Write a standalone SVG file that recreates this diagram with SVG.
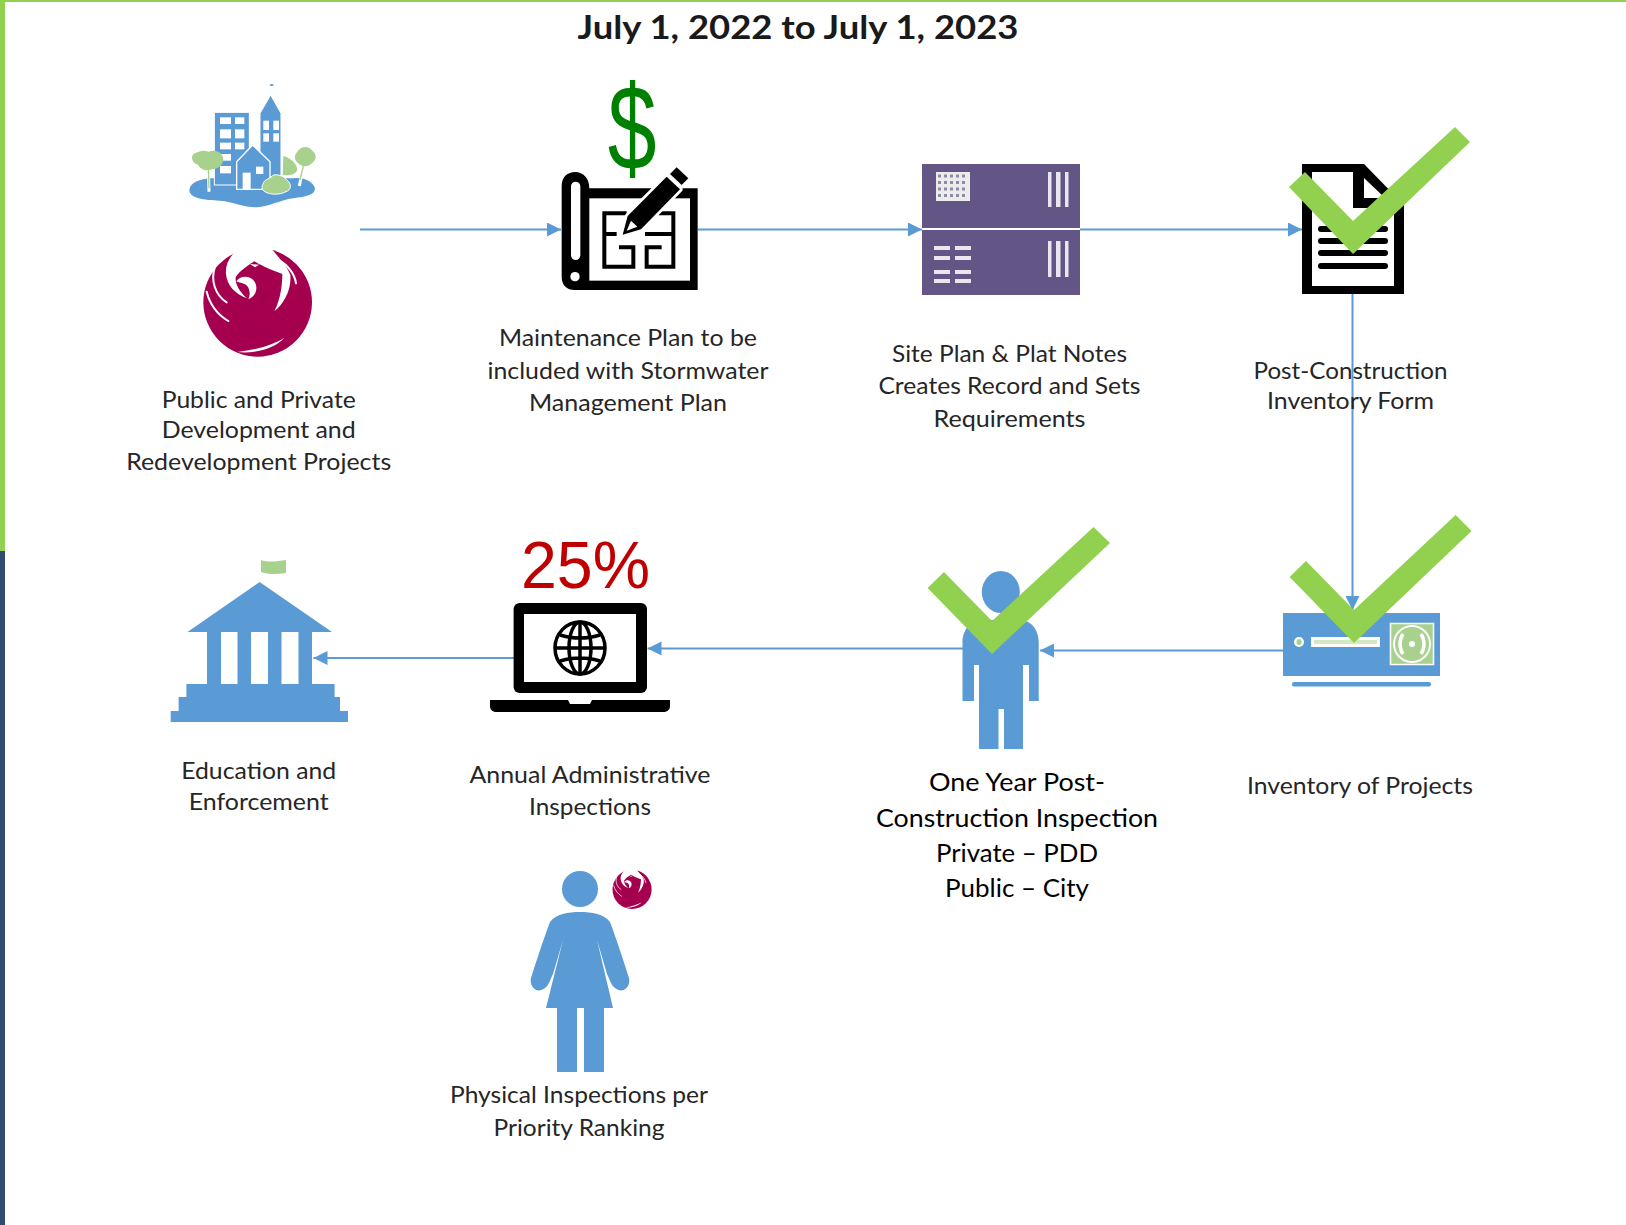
<svg xmlns="http://www.w3.org/2000/svg" xmlns:xlink="http://www.w3.org/1999/xlink" width="1626" height="1225" viewBox="0 0 1626 1225">
<style>
.t{font-family:"Lato","Carlito","Liberation Sans",sans-serif;font-size:24px;fill:#262626;text-anchor:middle}
.d{fill:#000;font-size:25px}
.b{fill:#5b9bd5}
.g{fill:#a9d18e}
.k{fill:#000}
.w{fill:#fff}
.c{fill:#92d050}
.s{fill:none;stroke:#000}
.l{fill:none;stroke:#5b9bd5;stroke-width:2}
.r{fill:none;stroke:#fff}
</style>
<defs>
<marker id="a" markerUnits="userSpaceOnUse" markerWidth="15" markerHeight="16" refX="14" refY="7" orient="auto"><path d="M0 0L14 7L0 14Z" fill="#5b9bd5"/></marker>
<g id="phx">
<circle cx="188" cy="187" r="163" fill="#a50050"/>
<path class="w" d="M146 16C108 38 90 70 93 102C96 135 118 160 155 175C132 152 120 132 122 112C132 94 160 76 178 64C190 72 220 87 262 102C262 130 258 175 238 214C266 192 290 150 286 105C276 78 248 48 222 18Z"/>
<path class="w" d="M124 124C140 102 176 108 183 135C187 152 180 170 160 178C168 162 164 138 148 132C138 128 130 127 124 124Z"/>
<path class="w" d="M165 72L192 74L180 82Z"/>
<path class="r" stroke-width="6" stroke-linecap="round" d="M250 60C280 75 300 105 303 130M60 80C46 120 60 165 95 187M35 155C45 195 70 225 100 243"/>
<path class="w" d="M128 336C170 342 238 328 268 293C232 316 180 330 128 336Z"/>
</g>
</defs>
<rect width="1626" height="1225" class="w"/>
<rect width="1626" height="2" fill="#92d050"/>
<rect width="5" height="551" fill="#92d050"/>
<rect y="551" width="5" height="674" fill="#2f4a73"/>
<text id="title" x="798" y="39" text-anchor="middle" font-family="Lato,'Liberation Sans',sans-serif" font-weight="700" font-size="33" fill="#1a1a1a" textLength="441" lengthAdjust="spacingAndGlyphs">July 1, 2022 to July 1, 2023</text>

<g id="connectors">
<path class="l" marker-end="url(#a)" d="M360 229.500H561"/>
<path class="l" marker-end="url(#a)" d="M698 229.500H922"/>
<path class="l" marker-end="url(#a)" d="M1080 229.500H1302"/>
<path class="l" marker-end="url(#a)" d="M1352.500 294V610"/>
<path class="l" marker-end="url(#a)" d="M1283 650.500H1040"/>
<path class="l" marker-end="url(#a)" d="M963 648.500H647.500"/>
<path class="l" marker-end="url(#a)" d="M514 658H313.500"/>
</g>

<g id="node-projects">
<g transform="translate(180 80) scale(.33333)">
<ellipse class="b" cx="275" cy="15" rx="6" ry="3"/>
<path class="b" d="M28 330C32 305 60 300 85 295H340C370 290 400 305 405 325C405 345 380 350 340 355C300 360 270 380 230 382C190 382 160 365 120 362C70 360 28 355 28 330Z"/>
<rect class="b" stroke="#fff" stroke-width="3" x="103" y="97" width="105" height="218"/>
<g class="w"><rect x="120" y="112" width="33" height="20"/><rect x="165" y="112" width="28" height="20"/><rect x="120" y="148" width="33" height="27"/><rect x="165" y="148" width="28" height="27"/><rect x="120" y="188" width="33" height="20"/><rect x="165" y="188" width="28" height="20"/><rect x="120" y="222" width="33" height="20"/><rect x="120" y="258" width="33" height="22"/></g>
<path class="b" stroke="#fff" stroke-width="3" d="M272 45L240 100V290H303V100Z"/>
<g class="w"><rect x="250" y="122" width="17" height="28"/><rect x="280" y="122" width="17" height="28"/><rect x="250" y="160" width="17" height="25"/><rect x="280" y="160" width="17" height="25"/></g>
<path class="b" stroke="#fff" stroke-width="4" d="M218 195L270 245V328H170V245Z"/>
<rect class="w" x="188" y="278" width="24" height="50"/><rect class="w" x="228" y="260" width="22" height="22"/>
<path class="g" d="M310 228C330 232 352 252 352 270C345 285 325 288 308 285Z"/>
<path class="r" stroke-width="9" d="M85 260L87 335M372 250L358 318"/>
<path d="M85 260L87 325M372 250L360 300" stroke="#a9d18e" stroke-width="4"/>
<path class="g" d="M40 222C55 215 70 208 85 215C100 208 125 212 130 235C130 255 115 268 95 268C80 275 60 268 55 255C40 250 30 235 40 222Z"/>
<path class="g" d="M352 215C360 200 385 195 395 210C410 220 412 240 395 250C385 262 365 262 355 250C342 240 342 225 352 215Z"/>
<path class="g" stroke="#fff" stroke-width="3" d="M250 310C255 295 270 298 280 285C295 282 315 290 320 300C335 310 335 330 318 335C300 345 270 345 255 335C245 330 244 318 250 310Z"/>
</g>
<use href="#phx" xlink:href="#phx" transform="translate(195 240) scale(.33333)"/>
<text class="t" x="258.700" y="407.500" textLength="194" lengthAdjust="spacingAndGlyphs">Public and Private</text>
<text class="t" x="258.700" y="438" textLength="194" lengthAdjust="spacingAndGlyphs">Development and</text>
<text class="t" x="258.700" y="470" textLength="265" lengthAdjust="spacingAndGlyphs">Redevelopment Projects</text>
</g>

<g id="node-maintenance">
<text transform="translate(632 169) scale(.73 1)" text-anchor="middle" font-family="'Liberation Sans',sans-serif" font-size="120" fill="#008000">$</text>
<g transform="translate(555 160) scale(.33333)">
<path class="k" d="M20 78C20 50 38 36 60 36C85 36 103 55 103 85H428V390H60C35 390 20 375 20 350Z"/>
<rect class="w" x="48" y="65" width="28" height="235" rx="14"/>
<circle class="w" cx="60" cy="350" r="14"/>
<rect class="w" x="103" y="115" width="302" height="247"/>
<path class="s" stroke-width="12" d="M215 160H148V320H235V262H192M148 222H185M310 160H355V320H275V262H320M270 222H355"/>
<path class="k" stroke="#fff" stroke-width="16" stroke-linejoin="round" d="M203 224L218 168L335 50L375 88L258 208Z"/>
<path class="k" d="M203 224L218 168L335 50L375 88L258 208Z"/>
<path class="k" d="M345 42L365 22L400 55L380 75Z"/>
<path class="w" d="M215 212L228 182L247 200Z"/>
</g>
<text class="t" x="628" y="346" textLength="258" lengthAdjust="spacingAndGlyphs">Maintenance Plan to be</text>
<text class="t" x="628" y="378.500" textLength="281" lengthAdjust="spacingAndGlyphs">included with Stormwater</text>
<text class="t" x="628" y="411" textLength="198" lengthAdjust="spacingAndGlyphs">Management Plan</text>
</g>

<g id="node-siteplan">
<rect x="922" y="164" width="158" height="131" fill="#635585"/>
<rect class="w" x="922" y="228" width="158" height="2"/>
<rect x="936" y="172" width="34" height="29" fill="#ececec"/>
<path d="M938 176H968M938 182.500H968M938 189H968M938 195.500H968" stroke="#8f8aa5" stroke-width="3" stroke-dasharray="3 3"/>
<g fill="#e9e6f0"><rect x="1048" y="172" width="3.500" height="35"/><rect x="1056" y="172" width="4.500" height="35"/><rect x="1065" y="172" width="3.500" height="35"/><rect x="1048" y="241" width="3.500" height="36"/><rect x="1056" y="241" width="4.500" height="36"/><rect x="1065" y="241" width="3.500" height="36"/></g>
<path d="M934 248H950M955 248H971M934 258H950M955 258H971M934 272H950M955 272H971M934 281H950M955 281H971" stroke="#e9e6f0" stroke-width="4"/>
<text class="t" x="1009.500" y="362" textLength="235" lengthAdjust="spacingAndGlyphs">Site Plan &amp; Plat Notes</text>
<text class="t" x="1009.500" y="394" textLength="262" lengthAdjust="spacingAndGlyphs">Creates Record and Sets</text>
<text class="t" x="1009.500" y="426.500" textLength="152" lengthAdjust="spacingAndGlyphs">Requirements</text>
</g>

<g id="node-form">
<path class="k" d="M1302 164H1364L1404 205V294H1302Z"/>
<path class="w" d="M1312 172H1353V208H1394V286H1312Z"/>
<path class="w" d="M1364 178V198H1385Z"/>
<path d="M1321 229H1385M1321 241H1385M1321 253H1385M1321 266H1385" stroke="#000" stroke-width="6" stroke-linecap="round"/>
<path class="c" d="M1305 172L1353 221L1455 127L1470 142L1353 254L1289 187Z"/>
<text class="t" x="1350.500" y="378.500" textLength="194" lengthAdjust="spacingAndGlyphs">Post-Construction</text>
<text class="t" x="1350.500" y="409" textLength="167" lengthAdjust="spacingAndGlyphs">Inventory Form</text>
</g>

<g id="node-inventory">
<rect class="b" x="1283" y="613" width="157" height="63"/>
<rect class="b" x="1292" y="682" width="139" height="4.500" rx="2"/>
<ellipse class="w" cx="1299" cy="642" rx="5" ry="5"/><ellipse class="g" cx="1299" cy="642" rx="2.500" ry="3"/>
<rect class="w" x="1311" y="637" width="69" height="10"/><rect x="1314" y="640" width="63" height="4" fill="#d5e8c4"/>
<rect class="g" stroke="#fff" stroke-width="1.500" x="1390.500" y="623.500" width="43" height="41"/>
<ellipse class="r" stroke-width="2" cx="1412" cy="644" rx="18" ry="18"/>
<circle class="w" cx="1412" cy="644" r="3"/>
<path class="r" stroke-width="3.500" d="M1403 634C1399 640 1399 648 1403 654M1421 634C1425 640 1425 648 1421 654"/>
<path class="c" d="M1306 561L1354 610L1455.600 515L1471.600 531L1354 643L1289.600 577Z"/>
<text class="t" x="1360" y="794" textLength="226" lengthAdjust="spacingAndGlyphs">Inventory of Projects</text>
</g>

<g id="node-oneyear">
<ellipse class="b" cx="1000.800" cy="592" rx="19" ry="21"/>
<path class="b" d="M982 620H1020C1031 620 1038.700 630 1038.700 642V701H1029V665H1023V749H1004V709H998.500V749H979V665H974V701H962.500V642C962.500 630 971 620 982 620Z"/>
<path class="c" d="M944 572L992 621L1093.500 527L1110 543L992 654L927.600 588Z"/>
<text class="t d" x="1017" y="791" textLength="176" lengthAdjust="spacingAndGlyphs">One Year Post-</text>
<text class="t d" x="1017" y="826.500" textLength="282" lengthAdjust="spacingAndGlyphs">Construction Inspection</text>
<text class="t d" x="1017" y="861.500" textLength="162" lengthAdjust="spacingAndGlyphs">Private – PDD</text>
<text class="t d" x="1017" y="896.500" textLength="144" lengthAdjust="spacingAndGlyphs">Public – City</text>
</g>

<g id="node-annual">
<text x="585.500" y="588" text-anchor="middle" font-family="'Liberation Sans',sans-serif" font-size="67" fill="#c00000" textLength="129" lengthAdjust="spacingAndGlyphs">25%</text>
<rect class="k" x="513.600" y="603" width="133.400" height="90" rx="6"/>
<rect class="w" x="524" y="614" width="112" height="68"/>
<g class="s" stroke-width="3.500"><ellipse cx="580" cy="648" rx="25" ry="26"/><ellipse cx="580" cy="648" rx="11" ry="26"/><path d="M580 622V674M555 648H605M560 635C572 639 588 639 600 635M560 661C572 657 588 657 600 661"/></g>
<path class="k" d="M490 700H568L570 704H590L592 700H670V706C670 710 667 712 663 712H497C493 712 490 710 490 706Z"/>
<text class="t" x="590" y="782.500" textLength="241" lengthAdjust="spacingAndGlyphs">Annual Administrative</text>
<text class="t" x="590" y="814.500" textLength="122" lengthAdjust="spacingAndGlyphs">Inspections</text>
</g>

<g id="node-education">
<path class="g" d="M261 560C269 563 278 561 286 560V573C278 574 269 575 261 572Z"/>
<path class="b" d="M259.600 582L332 632H312V684H334.600V697H340V711H348V722H170.700V711H178.600V697H186.400V684H207V632H187.500Z"/>
<rect class="w" x="221" y="632" width="16.500" height="52"/><rect class="w" x="251" y="632" width="17" height="52"/><rect class="w" x="281.500" y="632" width="17" height="52"/>
<text class="t" x="258.700" y="779" textLength="155" lengthAdjust="spacingAndGlyphs">Education and</text>
<text class="t" x="258.700" y="809.500" textLength="140" lengthAdjust="spacingAndGlyphs">Enforcement</text>
</g>

<g id="node-physical">
<circle class="b" cx="580" cy="889" r="18"/>
<path class="b" d="M580 912C592 912 604 914 610 922C616 938 624 962 629 978C631 988 622 994 615 988C611 985 610 980 607 974L597 940L613 1008H604V1072H584V1008H577V1072H557V1008H546L563 940L553 974C550 980 549 985 545 988C538 994 529 988 531 978C536 962 544 938 550 922C556 914 568 912 580 912Z"/>
<use href="#phx" xlink:href="#phx" transform="translate(609.500 867) scale(.12)"/>
<text class="t" x="579" y="1102.500" textLength="258" lengthAdjust="spacingAndGlyphs">Physical Inspections per</text>
<text class="t" x="579" y="1135.500" textLength="171" lengthAdjust="spacingAndGlyphs">Priority Ranking</text>
</g>
</svg>
